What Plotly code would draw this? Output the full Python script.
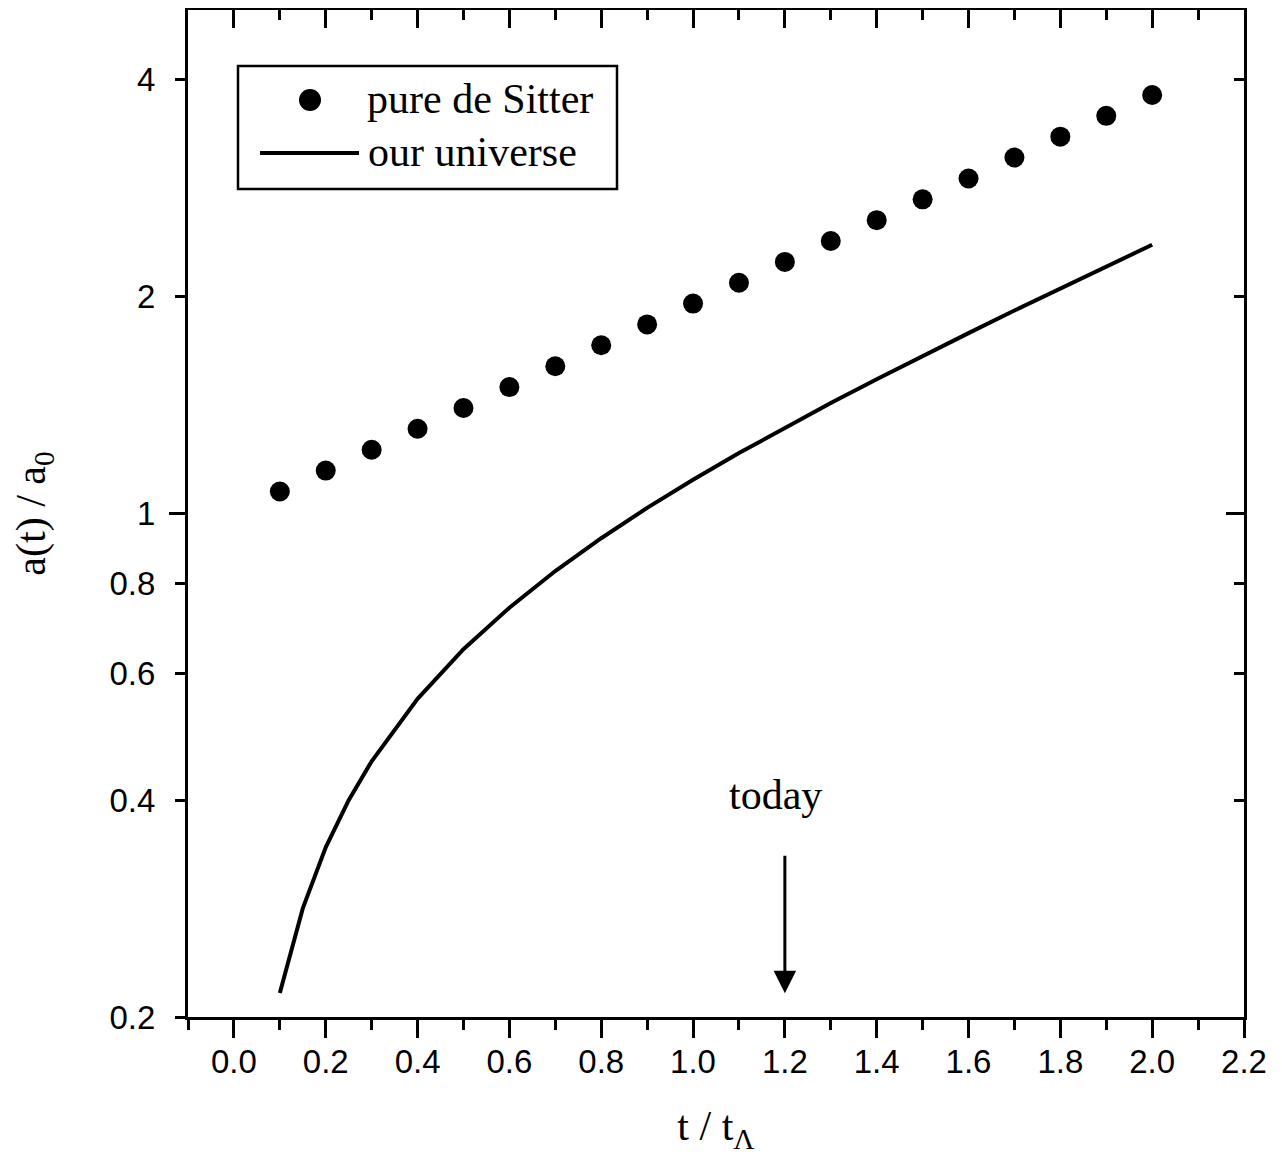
import math
import plotly.graph_objects as go

# ---- data ----
t_sitter = [0.1, 0.2, 0.3, 0.4, 0.5, 0.6, 0.7, 0.8, 0.9, 1.0,
            1.1, 1.2, 1.3, 1.4, 1.5, 1.6, 1.7, 1.8, 1.9, 2.0]
a_sitter = [1.073, 1.147, 1.226, 1.311, 1.401, 1.498, 1.601, 1.712, 1.830, 1.956,
            2.091, 2.235, 2.389, 2.554, 2.730, 2.918, 3.120, 3.335, 3.565, 3.811]

t_ours = [0.1, 0.15, 0.2, 0.25, 0.3, 0.4, 0.5, 0.6, 0.7, 0.8, 0.9, 1.0,
          1.1, 1.2, 1.3, 1.4, 1.5, 1.6, 1.7, 1.8, 1.9, 2.0]
a_ours = [0.216, 0.283, 0.344, 0.400, 0.453, 0.553, 0.648, 0.740, 0.832, 0.924, 1.018, 1.114,
          1.213, 1.316, 1.424, 1.536, 1.655, 1.780, 1.913, 2.053, 2.202, 2.361]

x_range = [-0.1, 2.2]
y_lo, y_hi = 0.2, 5.0
y_tickvals = [0.2, 0.4, 0.6, 0.8, 1, 2, 4]
y_ticktext = ["0.2", "0.4", "0.6", "0.8", "1", "2", "4"]
legend_names = ["pure de Sitter", "our universe"]
today_t = 1.2

SERIF = "Times New Roman, Liberation Serif, serif"
SANS = "Arial, Liberation Sans, sans-serif"
BLACK = "black"

y_range = [math.log10(y_lo), math.log10(y_hi)]

# page has an 8px body margin: figure is 1266x1151, drawn at (8, 8)
W, H = 1266, 1151
ML, MR, MT, MB = 180, 30, 2, 142

fig = go.Figure()

fig.add_trace(go.Scatter(
    x=t_ours, y=a_ours, mode="lines", name=legend_names[1],
    line=dict(color=BLACK, width=4), showlegend=False))
fig.add_trace(go.Scatter(
    x=t_sitter, y=a_sitter, mode="markers", name=legend_names[0],
    marker=dict(color=BLACK, size=20, line=dict(width=0)), showlegend=False))

# dummy traces to register the mirror axes
for xa, ya in [("x2", "y2"), ("x", "y3"), ("x", "y4")]:
    fig.add_trace(go.Scatter(x=[None], y=[None], xaxis=xa, yaxis=ya,
                             showlegend=False, hoverinfo="skip"))

common_x = dict(range=x_range, showgrid=False, zeroline=False,
                tickmode="linear", tick0=0, dtick=0.2,
                ticklen=18, tickwidth=3, tickcolor=BLACK,
                minor=dict(tickmode="linear", tick0=-0.1, dtick=0.1,
                           ticklen=10, tickwidth=3, tickcolor=BLACK))

fig.update_layout(
    width=W, height=H,
    margin=dict(l=ML, r=MR, t=MT, b=MB),
    paper_bgcolor="white", plot_bgcolor="white",
    showlegend=False,
    xaxis=dict(**common_x, ticks="outside", showline=True, linewidth=3, linecolor=BLACK,
               tickformat=".1f", tickfont=dict(family=SANS, size=33, color=BLACK),
               minor_ticks="outside", ticklabelstandoff=-5,
               title=dict(text="t / t<sub>Λ</sub>", font=dict(family=SERIF, size=42, color=BLACK),
                          standoff=33)),
    xaxis2=dict(**common_x, overlaying="x", side="top", ticks="inside",
                minor_ticks="inside", showticklabels=False,
                showline=True, linewidth=3, linecolor=BLACK, anchor="y2"),
    yaxis=dict(type="log", range=y_range, showgrid=False, zeroline=False,
               tickmode="array", tickvals=y_tickvals, ticktext=y_ticktext,
               ticks="outside", ticklen=10, tickwidth=3, tickcolor=BLACK,
               showline=True, linewidth=3, linecolor=BLACK,
               ticklabelstandoff=13,
               tickfont=dict(family=SANS, size=33, color=BLACK),
               title=dict(text="a(t) / a<sub>0</sub>", font=dict(family=SERIF, size=42, color=BLACK),
                          standoff=58)),
    yaxis2=dict(type="log", range=y_range, overlaying="y", side="right", anchor="x2",
                showgrid=False, zeroline=False,
                tickmode="array", tickvals=y_tickvals, showticklabels=False,
                ticks="inside", ticklen=10, tickwidth=3, tickcolor=BLACK,
                showline=True, linewidth=3, linecolor=BLACK),
    yaxis3=dict(type="log", range=y_range, overlaying="y", side="left", anchor="x",
                showgrid=False, zeroline=False, showline=False,
                tickmode="array", tickvals=[1], showticklabels=False,
                ticks="outside", ticklen=18, tickwidth=3, tickcolor=BLACK),
    yaxis4=dict(type="log", range=y_range, overlaying="y", side="right", anchor="x2",
                showgrid=False, zeroline=False, showline=False,
                tickmode="array", tickvals=[1], showticklabels=False,
                ticks="inside", ticklen=18, tickwidth=3, tickcolor=BLACK),
)

# ---- custom legend box (positions given in page pixels) ----
PW = W - ML - MR
PH = H - MT - MB


def px_x(p):  # page pixel -> paper x
    return (p - 8 - ML) / PW


def px_y(p):  # page pixel -> paper y
    return (H - MB + 8 - p) / PH


fig.add_shape(type="rect", xref="paper", yref="paper",
              x0=px_x(238), x1=px_x(617), y0=px_y(189), y1=px_y(66),
              line=dict(color=BLACK, width=2.5), fillcolor="white", layer="above")
fig.add_shape(type="circle", xref="paper", yref="paper",
              xsizemode="pixel", ysizemode="pixel",
              xanchor=px_x(310), yanchor=px_y(100),
              x0=-11, x1=11, y0=-11, y1=11,
              line=dict(width=0), fillcolor=BLACK, layer="above")
fig.add_shape(type="line", xref="paper", yref="paper",
              x0=px_x(260), x1=px_x(359), y0=px_y(153), y1=px_y(153),
              line=dict(color=BLACK, width=4), layer="above")
fig.add_annotation(xref="paper", yref="paper", x=px_x(365), y=px_y(99),
                   xanchor="left", yanchor="middle", showarrow=False,
                   text=legend_names[0], font=dict(family=SERIF, size=42, color=BLACK))
fig.add_annotation(xref="paper", yref="paper", x=px_x(366), y=px_y(152),
                   xanchor="left", yanchor="middle", showarrow=False,
                   text=legend_names[1], font=dict(family=SERIF, size=42, color=BLACK))

# ---- "today" marker ----
fig.add_annotation(xref="x", yref="y", x=1.1785, y=math.log10(0.4066),
                   text="today", showarrow=False,
                   font=dict(family=SERIF, size=42, color=BLACK))
fig.add_annotation(xref="x", yref="y", axref="x", ayref="y",
                   x=today_t, y=math.log10(0.2158), ax=today_t, ay=math.log10(0.3366),
                   text="", showarrow=True, arrowhead=2, arrowsize=1.5,
                   arrowwidth=3, arrowcolor=BLACK)

fig.write_html("out.html")
